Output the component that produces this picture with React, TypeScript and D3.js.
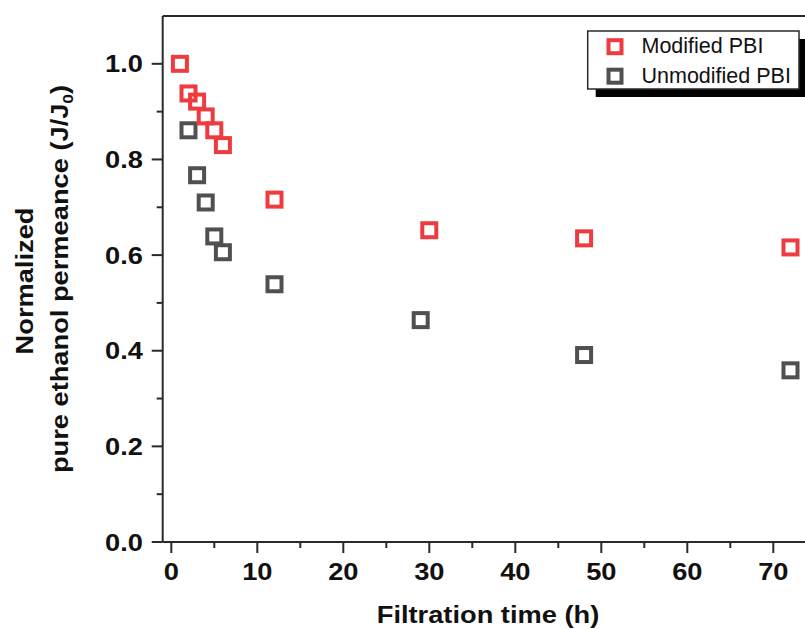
import React from "react";
import * as d3 from "d3";

const modX = [1, 2, 3, 4, 5, 6, 12, 30, 48, 72];
const modY = [1.0, 0.938, 0.921, 0.89, 0.861, 0.83, 0.716, 0.652, 0.635, 0.616];
const unmodX = [2, 3, 4, 5, 6, 12, 29, 48, 72];
const unmodY = [0.861, 0.767, 0.71, 0.639, 0.606, 0.539, 0.464, 0.391, 0.359];
const xTicks = [0, 10, 20, 30, 40, 50, 60, 70];
const xMinor = [5, 15, 25, 35, 45, 55, 65];
const yTicks = [0, 0.2, 0.4, 0.6, 0.8, 1.0];
const yMinor = [0.1, 0.3, 0.5, 0.7, 0.9];
const seriesNames = ["Modified PBI", "Unmodified PBI"];
const colors = ["#EE3B3F", "#505050"];

export default function App() {
  const W = 805, H = 629;
  const left = 162.7, top = 16, bottom = 542;
  const x = d3.scaleLinear().domain([-1, 75]).range([left, left + 76 * 8.6]);
  const y = d3.scaleLinear().domain([0, 1.1]).range([bottom, top]);
  const font = "'Liberation Sans', Arial, sans-serif";
  const axisColor = "#2a2a2a";
  const sx = 1.16;
  const ms = 14;

  const series = [
    { xs: modX, ys: modY, color: colors[0] },
    { xs: unmodX, ys: unmodY, color: colors[1] },
  ];

  return (
    <svg width={W} height={H} style={{ position: "absolute", left: 0, top: 0 }}>
      <rect width={W} height={H} fill="#fff" />
      {series.slice().reverse().map((s, si) =>
        s.xs.map((xv, i) => (
          <rect
            key={`${si}-${i}`}
            x={x(xv) - ms / 2}
            y={y(s.ys[i]) - ms / 2}
            width={ms}
            height={ms}
            fill="none"
            stroke={s.color}
            strokeWidth={4}
          />
        ))
      )}
      <line x1={left} x2={W} y1={top} y2={top} stroke={axisColor} strokeWidth={2} />
      <line x1={left} x2={left} y1={top} y2={bottom} stroke={axisColor} strokeWidth={2} />
      <line x1={left} x2={W} y1={bottom} y2={bottom} stroke={axisColor} strokeWidth={2} />
      {yTicks.map((t) => (
        <g key={"yt" + t}>
          <line x1={left - 11} x2={left} y1={y(t)} y2={y(t)} stroke={axisColor} strokeWidth={2} />
          <text
            transform={`translate(143,${y(t) + 8.5}) scale(${sx},1)`}
            textAnchor="end"
            fontFamily={font}
            fontWeight="bold"
            fontSize={23.5}
            fill="#111"
          >
            {d3.format(".1f")(t)}
          </text>
        </g>
      ))}
      {yMinor.map((t) => (
        <line key={"ym" + t} x1={left - 6} x2={left} y1={y(t)} y2={y(t)} stroke={axisColor} strokeWidth={2} />
      ))}
      {xTicks.map((t) => (
        <g key={"xt" + t}>
          <line x1={x(t)} x2={x(t)} y1={bottom} y2={bottom + 11} stroke={axisColor} strokeWidth={2} />
          <text
            transform={`translate(${x(t)},580) scale(${sx},1)`}
            textAnchor="middle"
            fontFamily={font}
            fontWeight="bold"
            fontSize={23.5}
            fill="#111"
          >
            {t}
          </text>
        </g>
      ))}
      {xMinor.map((t) => (
        <line key={"xm" + t} x1={x(t)} x2={x(t)} y1={bottom} y2={bottom + 6} stroke={axisColor} strokeWidth={2} />
      ))}
      <text
        transform={`translate(488,623) scale(${sx},1)`}
        textAnchor="middle"
        fontFamily={font}
        fontWeight="bold"
        fontSize={23.5}
        fill="#111"
      >
        Filtration time (h)
      </text>
      <text
        transform={`translate(33,281) rotate(-90) scale(${sx},1)`}
        textAnchor="middle"
        fontFamily={font}
        fontWeight="bold"
        fontSize={23.5}
        fill="#111"
      >
        Normalized
      </text>
      <text
        transform={`translate(68,279) rotate(-90) scale(${sx},1)`}
        textAnchor="middle"
        fontFamily={font}
        fontWeight="bold"
        fontSize={23.5}
        fill="#111"
      >
        pure ethanol permeance (J/J
        <tspan fontSize={15} dy={5}>0</tspan>
        <tspan dy={-5}>)</tspan>
      </text>
      <rect x={595.7} y={39} width={211.3} height={58} fill="#000" />
      <rect x={587.7} y={31} width={211.3} height={58} fill="#fff" stroke={axisColor} strokeWidth={1.5} />
      {seriesNames.map((n, i) => (
        <g key={n}>
          <rect
            x={615 - 6.5}
            y={46.7 + i * 29.5 - 6.5}
            width={13}
            height={13}
            fill="none"
            stroke={colors[i]}
            strokeWidth={4}
          />
          <text x={641.5} y={53 + i * 29.5} fontFamily={font} fontSize={21.5} fill="#111">
            {n}
          </text>
        </g>
      ))}
    </svg>
  );
}
